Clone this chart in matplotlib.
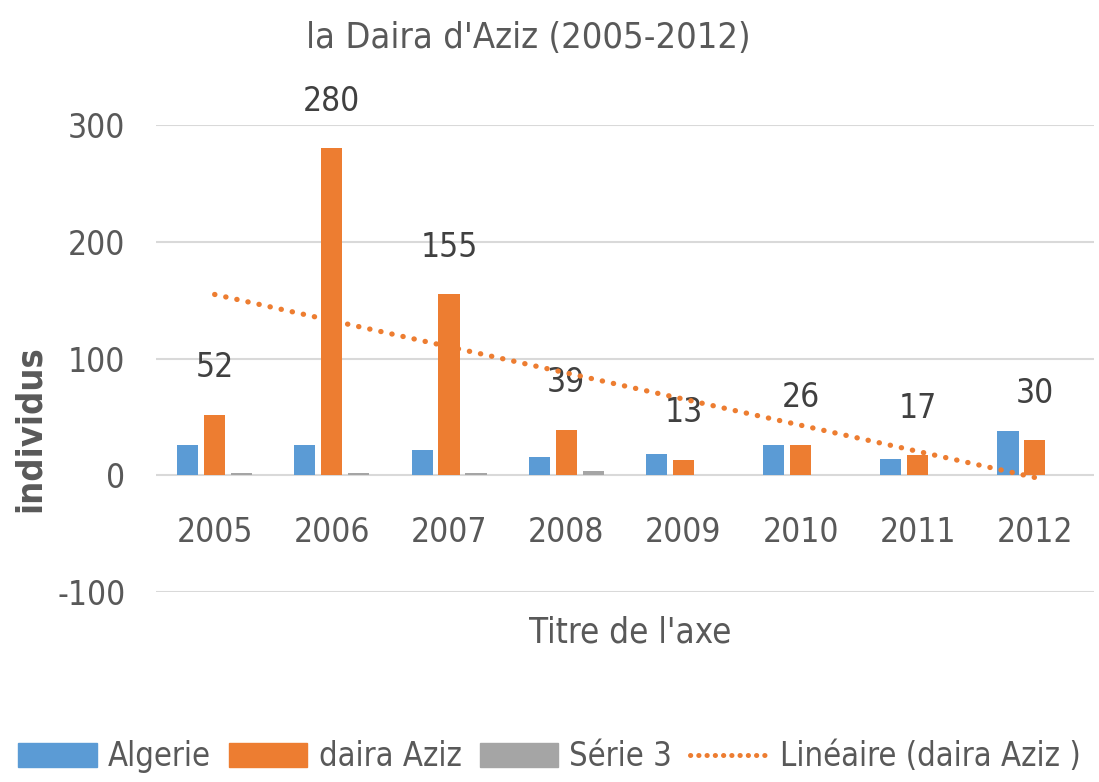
import numpy as np
import matplotlib.pyplot as plt
from matplotlib.patches import Patch
from matplotlib.lines import Line2D

plt.rcParams['font.family'] = ['DejaVu Sans']
plt.rcParams['font.stretch'] = 'condensed'
plt.rcParams['axes.unicode_minus'] = False

# Data
years = ['2005', '2006', '2007', '2008', '2009', '2010', '2011', '2012']
algerie = [26, 26, 22, 16, 18, 26, 14, 38]
daira_aziz = [52, 280, 155, 39, 13, 26, 17, 30]
serie3 = [2, 2, 2, 4, 0, 0, 0, 0]

blue = '#5B9BD5'
orange = '#ED7D31'
gray = '#A5A5A5'
txt = '#595959'

fig = plt.figure(figsize=(10.99, 7.82), dpi=100)
ax = fig.add_axes([0.142, 0.243, 0.853, 0.597])

x = np.arange(len(years))
w = 0.18
step = 0.23
ax.bar(x - step, algerie, w, color=blue, zorder=3)
ax.bar(x, daira_aziz, w, color=orange, zorder=3)
ax.bar(x + step, serie3, w, color=gray, zorder=3)

# linear trend of daira Aziz (like Excel's trendline)
coef = np.polyfit(x, daira_aziz, 1)
ax.plot(x, np.polyval(coef, x), color=orange, lw=3.8,
        linestyle=(0, (0.05, 2.1)), dash_capstyle='round', zorder=4)

for xi, v in zip(x, daira_aziz):
    ax.annotate(str(v), (xi, v), xytext=(0, 34), textcoords='offset points',
                ha='center', va='center', fontsize=24, color='#404040')

ax.set_xlim(-0.5, len(years) - 0.5)
ax.set_ylim(-100, 300)
ax.set_yticks([-100, 0, 100, 200, 300])
ax.grid(axis='y', color='#d9d9d9', lw=1.5, zorder=0)
for s in ax.spines.values():
    s.set_visible(False)
ax.spines['bottom'].set_position(('data', 0))
ax.set_xticks(x)
ax.set_xticklabels(years)
ax.tick_params(axis='x', length=0, pad=29, labelsize=24, labelcolor=txt)
ax.tick_params(axis='y', length=0, pad=22, labelsize=24, labelcolor=txt)

fig.text(0.481, 0.951, "la Daira d'Aziz (2005-2012)", ha='center', va='center',
         fontsize=26, color=txt)
fig.text(0.573, 0.191, "Titre de l'axe", ha='center', va='center',
         fontsize=25, color=txt)
fig.text(0.027, 0.452, 'individus', ha='center', va='center', rotation=90,
         fontsize=26, fontweight='bold', color=txt)

handles = [Patch(color=blue), Patch(color=orange), Patch(color=gray),
           Line2D([], [], color=orange, lw=3.6, linestyle=(0, (0.05, 1.6)),
                  dash_capstyle='round')]
labels = ['Algerie', 'daira Aziz', 'Série 3', 'Linéaire (daira Aziz )']
fig.legend(handles, labels, loc='center', bbox_to_anchor=(0.5, 0.032), ncol=4,
           frameon=False, fontsize=23.5, handlelength=2.4, handleheight=0.75,
           columnspacing=0.55, handletextpad=0.35, labelcolor=txt)

fig.savefig('out.png', dpi=100, facecolor='white')
